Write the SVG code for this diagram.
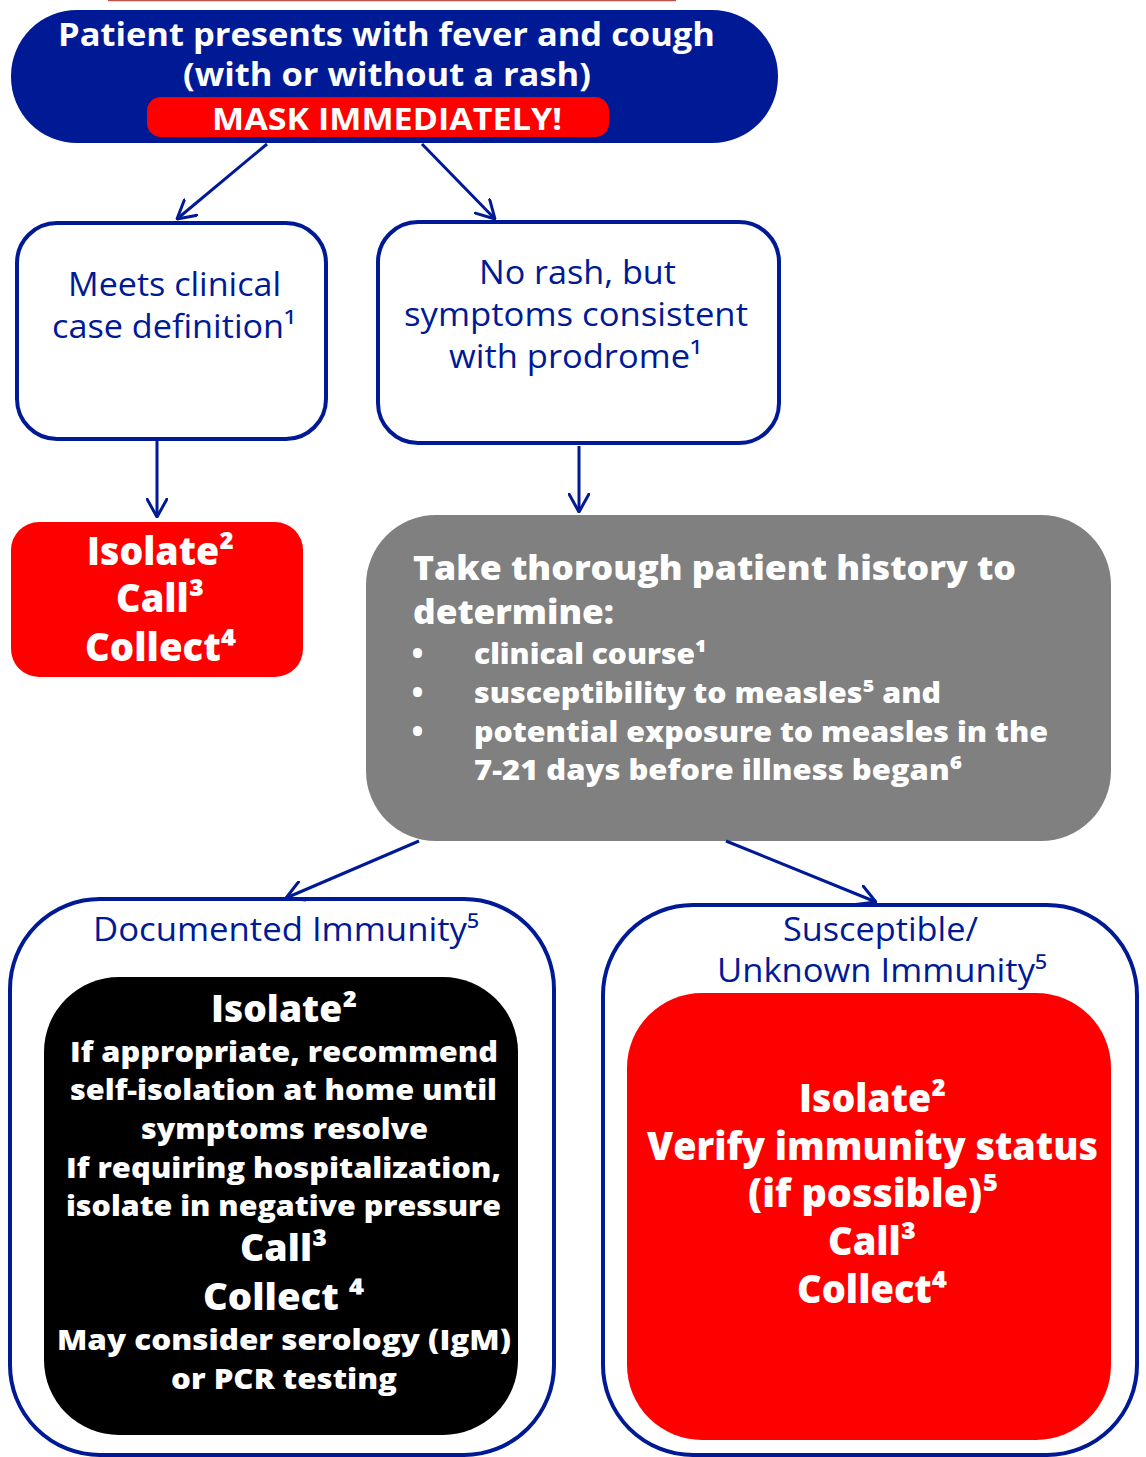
<svg xmlns="http://www.w3.org/2000/svg" width="1146" height="1457" viewBox="0 0 1146 1457">
<style>
.t{font-family:"Open Sans","Liberation Sans",sans-serif;}
.w{fill:#ffffff;}
.b{fill:#001A96;}
.bold{font-weight:700;}
.xb{font-weight:800;}
.reg{font-weight:400;}
.conn{stroke:#001A96;stroke-width:3;fill:none;marker-end:url(#arr);}
.outline{fill:#ffffff;stroke:#001A96;stroke-width:4;}
</style>
<defs>
<marker id="arr" viewBox="0 0 20 22" refX="19" refY="11" markerWidth="20" markerHeight="22" markerUnits="userSpaceOnUse" orient="auto">
<path d="M1,1 L19,11 L1,21" fill="none" stroke="#001A96" stroke-width="3" stroke-linecap="round" stroke-linejoin="miter"/>
</marker>
</defs>
<rect width="1146" height="1457" fill="#ffffff"/>
<line x1="108" y1="0.5" x2="676" y2="0.5" stroke="#C0504D" stroke-width="1.5"/>

<g id="start">
<rect x="11" y="10" width="767" height="133" rx="66" ry="66" fill="#001A96"/>
<text class="t w bold" x="58" y="46" font-size="32" textLength="657" lengthAdjust="spacingAndGlyphs">Patient presents with fever and cough</text>
<text class="t w bold" x="183" y="86" font-size="32" textLength="408" lengthAdjust="spacingAndGlyphs">(with or without a rash)</text>
<rect x="147" y="97" width="462" height="40" rx="14" ry="14" fill="#FF0000"/>
<text class="t w bold" x="212" y="130" font-size="31" textLength="350" lengthAdjust="spacingAndGlyphs">MASK IMMEDIATELY!</text>
</g>

<g id="meets">
<rect class="outline" x="17" y="223" width="309" height="216" rx="40" ry="40"/>
<text class="t b reg" x="68" y="296" font-size="33" textLength="213" lengthAdjust="spacingAndGlyphs">Meets clinical</text>
<text class="t b reg" x="52" y="338" font-size="33" textLength="244" lengthAdjust="spacingAndGlyphs">case definition¹</text>
</g>

<g id="norash">
<rect class="outline" x="378" y="222" width="401" height="221" rx="40" ry="40"/>
<text class="t b reg" x="479" y="284" font-size="33" textLength="197" lengthAdjust="spacingAndGlyphs">No rash, but</text>
<text class="t b reg" x="404" y="326" font-size="33" textLength="344" lengthAdjust="spacingAndGlyphs">symptoms consistent</text>
<text class="t b reg" x="449" y="368" font-size="33" textLength="253" lengthAdjust="spacingAndGlyphs">with prodrome¹</text>
</g>

<g id="isolate1">
<rect x="11" y="522" width="292" height="155" rx="28" ry="28" fill="#FF0000"/>
<text class="t w xb" x="87" y="565" font-size="38" textLength="147" lengthAdjust="spacingAndGlyphs">Isolate²</text>
<text class="t w xb" x="116" y="612" font-size="38" textLength="88" lengthAdjust="spacingAndGlyphs">Call³</text>
<text class="t w xb" x="85" y="661" font-size="38" textLength="151" lengthAdjust="spacingAndGlyphs">Collect⁴</text>
</g>

<g id="history">
<rect x="366" y="515" width="745" height="326" rx="70" ry="70" fill="#808080"/>
<text class="t w xb" x="413" y="580" font-size="33" textLength="603" lengthAdjust="spacingAndGlyphs">Take thorough patient history to</text>
<text class="t w xb" x="413" y="624" font-size="33" textLength="201" lengthAdjust="spacingAndGlyphs">determine:</text>
<text class="t w xb" x="412" y="664" font-size="28">•</text>
<text class="t w xb" x="474" y="664" font-size="28" textLength="233" lengthAdjust="spacingAndGlyphs">clinical course¹</text>
<text class="t w xb" x="412" y="703" font-size="28">•</text>
<text class="t w xb" x="474" y="703" font-size="28" textLength="467" lengthAdjust="spacingAndGlyphs">susceptibility to measles⁵ and</text>
<text class="t w xb" x="412" y="742" font-size="28">•</text>
<text class="t w xb" x="474" y="742" font-size="28" textLength="574" lengthAdjust="spacingAndGlyphs">potential exposure to measles in the</text>
<text class="t w xb" x="474" y="780" font-size="28" textLength="488" lengthAdjust="spacingAndGlyphs">7-21 days before illness began⁶</text>
</g>

<g id="documented">
<rect class="outline" x="10" y="899" width="544" height="556" rx="90" ry="90"/>
<text class="t b reg" x="93" y="941" font-size="33" textLength="386" lengthAdjust="spacingAndGlyphs">Documented Immunity⁵</text>
<rect x="44" y="977" width="474" height="458" rx="75" ry="75" fill="#000000"/>
<text class="t w xb" x="211" y="1022" font-size="37" textLength="146" lengthAdjust="spacingAndGlyphs">Isolate²</text>
<text class="t w xb" x="70" y="1062" font-size="29" textLength="428" lengthAdjust="spacingAndGlyphs">If appropriate, recommend</text>
<text class="t w xb" x="70" y="1100" font-size="29" textLength="427" lengthAdjust="spacingAndGlyphs">self-isolation at home until</text>
<text class="t w xb" x="141" y="1139" font-size="29" textLength="287" lengthAdjust="spacingAndGlyphs">symptoms resolve</text>
<text class="t w xb" x="66" y="1178" font-size="29" textLength="435" lengthAdjust="spacingAndGlyphs">If requiring hospitalization,</text>
<text class="t w xb" x="66" y="1216" font-size="29" textLength="435" lengthAdjust="spacingAndGlyphs">isolate in negative pressure</text>
<text class="t w xb" x="240" y="1261" font-size="37" textLength="87" lengthAdjust="spacingAndGlyphs">Call³</text>
<text class="t w xb" x="203" y="1310" font-size="37" textLength="161" lengthAdjust="spacingAndGlyphs">Collect ⁴</text>
<text class="t w xb" x="57" y="1350" font-size="29" textLength="454" lengthAdjust="spacingAndGlyphs">May consider serology (IgM)</text>
<text class="t w xb" x="171" y="1389" font-size="29" textLength="226" lengthAdjust="spacingAndGlyphs">or PCR testing</text>
</g>

<g id="susceptible">
<rect class="outline" x="603" y="905" width="534" height="550" rx="90" ry="90"/>
<text class="t b reg" x="783" y="941" font-size="33" textLength="195" lengthAdjust="spacingAndGlyphs">Susceptible/</text>
<text class="t b reg" x="717" y="982" font-size="33" textLength="330" lengthAdjust="spacingAndGlyphs">Unknown Immunity⁵</text>
<rect x="627" y="993" width="484" height="447" rx="75" ry="75" fill="#FF0000"/>
<text class="t w xb" x="799" y="1112" font-size="38" textLength="147" lengthAdjust="spacingAndGlyphs">Isolate²</text>
<text class="t w xb" x="647" y="1160" font-size="38" textLength="451" lengthAdjust="spacingAndGlyphs">Verify immunity status</text>
<text class="t w xb" x="748" y="1207" font-size="38" textLength="250" lengthAdjust="spacingAndGlyphs">(if possible)⁵</text>
<text class="t w xb" x="828" y="1255" font-size="38" textLength="88" lengthAdjust="spacingAndGlyphs">Call³</text>
<text class="t w xb" x="797" y="1303" font-size="38" textLength="150" lengthAdjust="spacingAndGlyphs">Collect⁴</text>
</g>

<g id="connectors">
<line class="conn" x1="267" y1="144" x2="177" y2="219"/>
<line class="conn" x1="422" y1="144" x2="495" y2="219"/>
<line class="conn" x1="157" y1="441" x2="157" y2="517"/>
<line class="conn" x1="579" y1="446" x2="579" y2="512"/>
<line class="conn" x1="419" y1="841" x2="286" y2="898"/>
<line class="conn" x1="726" y1="841" x2="876" y2="902"/>
</g>
</svg>
